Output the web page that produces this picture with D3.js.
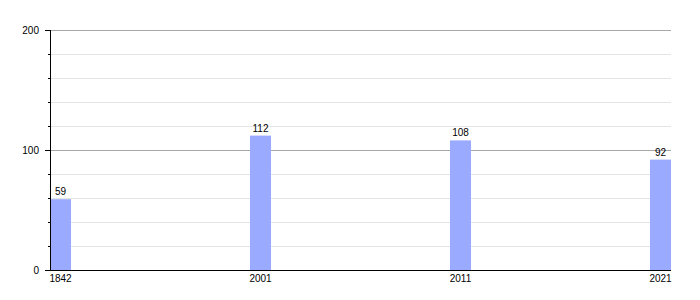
<!DOCTYPE html>
<html>
<head>
<meta charset="utf-8">
<script src="https://cdn.jsdelivr.net/npm/d3@7"></script>
<style>
  body { margin: 0; background: #fff; }
  text { font-family: "Liberation Sans", Arial, sans-serif; font-size: 10px; fill: #000; }
</style>
</head>
<body>
<svg id="chart"></svg>
<script>
const width = 700
const height = 300

// data
const years = ['1842', '2001', '2011', '2021']
const population = [59, 112, 108, 92]
const majorTicks = [0, 100, 200]
const minorTicks = [20, 40, 60, 80, 120, 140, 160, 180]

const svg = d3.select('#chart')
  .attr('width', width)
  .attr('height', height)

const plotLeft = 50
const plotRight = 671
const plotTop = 30
const plotBottom = 270
const barWidth = 21

const y = d3.scaleLinear().domain([0, 200]).range([plotBottom, plotTop])
const x = d3.scalePoint().domain(years).range([plotLeft + barWidth / 2, plotRight - barWidth / 2])

// --------------------------------------------------------------
// grid
svg.append('g')
  .selectAll('line')
  .data(minorTicks)
  .join('line')
  .attr('x1', plotLeft).attr('x2', plotRight)
  .attr('y1', d => y(d) + 0.5).attr('y2', d => y(d) + 0.5)
  .attr('stroke', '#e4e4e4')

svg.append('g')
  .selectAll('line')
  .data(majorTicks.filter(d => d > 0))
  .join('line')
  .attr('x1', plotLeft).attr('x2', plotRight)
  .attr('y1', d => y(d) + 0.5).attr('y2', d => y(d) + 0.5)
  .attr('stroke', '#a8a8a8')

// --------------------------------------------------------------
// bars
svg.append('g')
  .selectAll('rect')
  .data(years)
  .join('rect')
  .attr('x', d => x(d) - barWidth / 2)
  .attr('y', (d, i) => y(population[i]))
  .attr('width', barWidth)
  .attr('height', (d, i) => plotBottom - y(population[i]))
  .attr('fill', '#99aaff')

svg.append('g')
  .selectAll('text')
  .data(years)
  .join('text')
  .attr('x', d => x(d))
  .attr('y', (d, i) => y(population[i]) - 4)
  .attr('text-anchor', 'middle')
  .text((d, i) => population[i])

// --------------------------------------------------------------
// axes
const yAxis = svg.append('g')
yAxis.append('line')
  .attr('x1', plotLeft + 0.5).attr('x2', plotLeft + 0.5)
  .attr('y1', plotTop).attr('y2', plotBottom)
  .attr('stroke', '#000')

yAxis.selectAll('.major')
  .data(majorTicks)
  .join('line')
  .attr('class', 'major')
  .attr('x1', plotLeft - 5).attr('x2', plotLeft)
  .attr('y1', d => y(d) + 0.5).attr('y2', d => y(d) + 0.5)
  .attr('stroke', '#000')

yAxis.selectAll('.minor')
  .data(minorTicks)
  .join('line')
  .attr('class', 'minor')
  .attr('x1', plotLeft - 2).attr('x2', plotLeft)
  .attr('y1', d => y(d) + 0.5).attr('y2', d => y(d) + 0.5)
  .attr('stroke', '#000')

yAxis.selectAll('text')
  .data(majorTicks)
  .join('text')
  .attr('x', plotLeft - 11)
  .attr('y', d => y(d) + 4)
  .attr('text-anchor', 'end')
  .text(d => d)

svg.append('line')
  .attr('x1', plotLeft).attr('x2', plotRight)
  .attr('y1', plotBottom + 0.5).attr('y2', plotBottom + 0.5)
  .attr('stroke', '#000')

svg.append('g')
  .selectAll('text')
  .data(years)
  .join('text')
  .attr('x', d => x(d))
  .attr('y', plotBottom + 12)
  .attr('text-anchor', 'middle')
  .text(d => d)
</script>
</body>
</html>
